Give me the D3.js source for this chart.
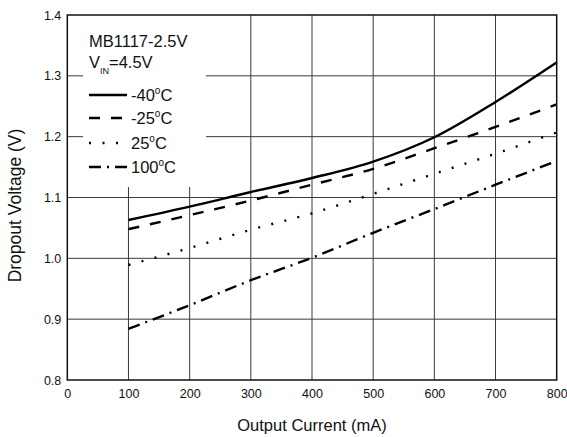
<!DOCTYPE html>
<html>
<head>
<meta charset="utf-8">
<script src="https://cdn.jsdelivr.net/npm/d3@7"></script>
<style>
  html, body { margin: 0; padding: 0; background: #fff; }
  svg { display: block; font-family: "Liberation Sans", Arial, sans-serif; }
</style>
</head>
<body>
<svg id="chart" width="567" height="437"></svg>
<script>
// Output current (mA) sample points
const currents = [100, 200, 300, 400, 500, 600, 700, 800];
// Dropout voltage (V) per temperature
const vMinus40 = [1.063, 1.085, 1.109, 1.132, 1.159, 1.199, 1.257, 1.322];
const vMinus25 = [1.048, 1.071, 1.095, 1.121, 1.147, 1.181, 1.216, 1.253];
const vPlus25  = [0.989, 1.017, 1.047, 1.074, 1.106, 1.139, 1.172, 1.207];
const vPlus100 = [0.884, 0.923, 0.964, 1.001, 1.042, 1.081, 1.121, 1.160];
const seriesNames = ["-40", "-25", "25", "100"];
const xTicks = [0, 100, 200, 300, 400, 500, 600, 700, 800];
const yTicks = [0.8, 0.9, 1.0, 1.1, 1.2, 1.3, 1.4];

const series = [
  { name: seriesNames[0], values: vMinus40, dash: null },
  { name: seriesNames[1], values: vMinus25, dash: "11,11" },
  { name: seriesNames[2], values: vPlus25,  dash: "2,11.5" },
  { name: seriesNames[3], values: vPlus100, dash: "12,6,2,6" }
];

const svg = d3.select("#chart");
const plotLeft = 67.3, plotRight = 556.7, plotTop = 15, plotBottom = 380;

const x = d3.scaleLinear().domain([0, 800]).range([plotLeft, plotRight]);
const y = d3.scaleLinear().domain([0.8, 1.4]).range([plotBottom, plotTop]);

// grid
const grid = svg.append("g").attr("stroke", "#3a3a3a").attr("stroke-width", 1);
grid.selectAll("line.v").data(xTicks.slice(1, -1)).join("line")
  .attr("class", "v")
  .attr("x1", d => x(d)).attr("x2", d => x(d))
  .attr("y1", plotTop).attr("y2", plotBottom);
grid.selectAll("line.h").data(yTicks.slice(1, -1)).join("line")
  .attr("class", "h")
  .attr("x1", plotLeft).attr("x2", plotRight)
  .attr("y1", d => y(d)).attr("y2", d => y(d));

// legend backdrop hides the grid behind the legend
svg.append("rect")
  .attr("x", 83).attr("y", plotTop).attr("width", 123).attr("height", 172)
  .attr("fill", "#fff");

// curves
const line = d3.line()
  .x((d, i) => x(currents[i]))
  .y(d => y(d))
  .curve(d3.curveMonotoneX);

svg.append("g").selectAll("path").data(series).join("path")
  .attr("d", d => line(d.values))
  .attr("fill", "none")
  .attr("stroke", "#000")
  .attr("stroke-width", 2.4)
  .attr("stroke-dasharray", d => d.dash);

// frame
svg.append("rect")
  .attr("x", plotLeft).attr("y", plotTop)
  .attr("width", plotRight - plotLeft).attr("height", plotBottom - plotTop)
  .attr("fill", "none").attr("stroke", "#111").attr("stroke-width", 1.5);

// axes
const xAxis = d3.axisBottom(x).tickValues(xTicks).tickSize(0).tickPadding(9)
  .tickFormat(d3.format("d"));
const gx = svg.append("g").attr("transform", `translate(0,${plotBottom})`).call(xAxis);
gx.select(".domain").remove();
gx.selectAll("text").attr("font-size", 12.5).attr("fill", "#111")
  .attr("font-family", "Liberation Sans, Arial, sans-serif");

const yAxis = d3.axisLeft(y).tickValues(yTicks).tickSize(0).tickPadding(6)
  .tickFormat(d3.format(".1f"));
const gy = svg.append("g").attr("transform", `translate(${plotLeft},0)`).call(yAxis);
gy.select(".domain").remove();
gy.selectAll("text").attr("font-size", 12.5).attr("fill", "#111")
  .attr("font-family", "Liberation Sans, Arial, sans-serif");

// axis titles
svg.append("text")
  .attr("x", (plotLeft + plotRight) / 2).attr("y", 431)
  .attr("text-anchor", "middle").attr("font-size", 16.5).attr("fill", "#111")
  .text("Output Current (mA)");
svg.append("text")
  .attr("transform", `translate(21,${(plotTop + plotBottom) / 2 + 8}) rotate(-90)`)
  .attr("text-anchor", "middle").attr("font-size", 17.5).attr("fill", "#111")
  .text("Dropout Voltage (V)");

// legend
const lg = svg.append("g").attr("fill", "#111").attr("font-size", 16.5);
lg.append("text").attr("x", 89).attr("y", 47).text("MB1117-2.5V");
const vin = lg.append("text").attr("x", 89).attr("y", 68);
vin.append("tspan").text("V");
vin.append("tspan").attr("font-size", 9).attr("dy", 6).text("IN");
vin.append("tspan").attr("dy", -6).text("=4.5V");

const rowY = [95, 118, 143, 167];
const rows = lg.selectAll("g.row").data(series).join("g")
  .attr("class", "row")
  .attr("transform", (d, i) => `translate(0,${rowY[i]})`);
rows.append("line")
  .attr("x1", 89).attr("x2", 127).attr("y1", 0).attr("y2", 0)
  .attr("stroke", "#000").attr("stroke-width", 2.6)
  .attr("stroke-dasharray", d => d.dash);
const lbl = rows.append("text").attr("x", 131).attr("y", 5.5);
lbl.append("tspan").text(d => d.name);
lbl.append("tspan").attr("font-size", 10).attr("dy", -7).text("o");
lbl.append("tspan").attr("dy", 7).text("C");
</script>
</body>
</html>
